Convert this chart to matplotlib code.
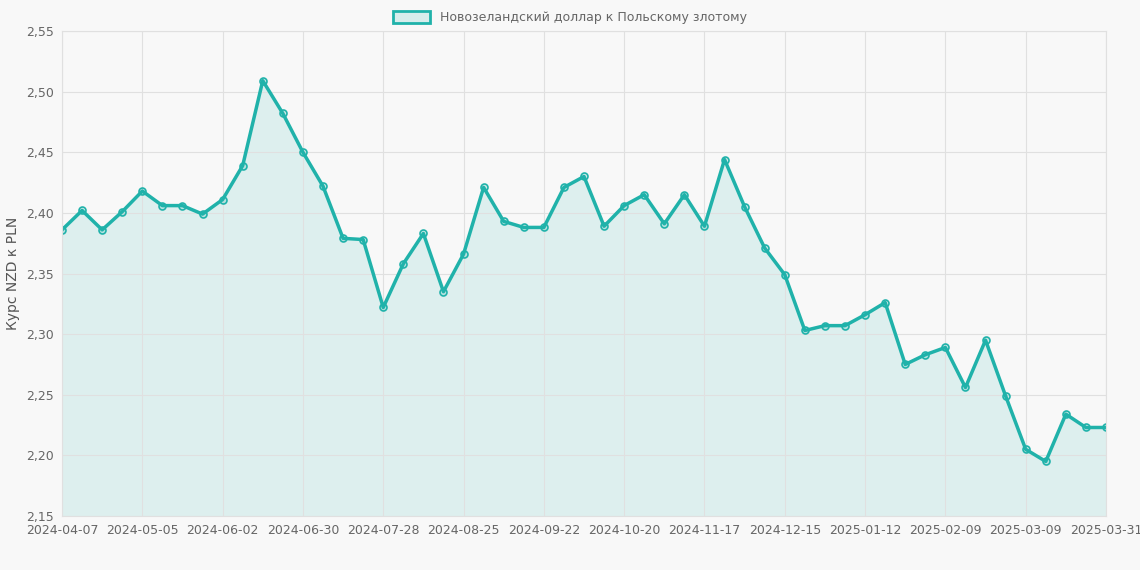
import matplotlib.pyplot as plt
import numpy as np
from datetime import date, timedelta

start = date(2024, 4, 7)
dates = [(start + timedelta(weeks=i)).isoformat() for i in range(52)] + ['2025-03-31']
rates = [2.386, 2.402, 2.386, 2.401, 2.418, 2.406, 2.406, 2.399, 2.411, 2.439,
         2.509, 2.482, 2.450, 2.422, 2.379, 2.378, 2.322, 2.358, 2.383, 2.335,
         2.366, 2.421, 2.393, 2.388, 2.388, 2.421, 2.430, 2.389, 2.406, 2.415,
         2.391, 2.415, 2.389, 2.444, 2.405, 2.371, 2.349, 2.303, 2.307, 2.307,
         2.316, 2.326, 2.275, 2.283, 2.289, 2.256, 2.295, 2.249, 2.205, 2.195,
         2.234, 2.223, 2.223]
label = 'Новозеландский доллар к Польскому злотому'
color = '#20b2aa'
bg = '#f8f8f8'

fig = plt.figure(figsize=(11.4, 5.7), dpi=100, facecolor=bg)
ax = fig.add_axes([62/1140, 1 - 516/570, (1106-62)/1140, (516-31)/570], facecolor=bg)
x = np.arange(len(rates))
ax.fill_between(x, rates, 2.15, color=color, alpha=0.12, linewidth=0)
ax.plot(x, rates, color=color, linewidth=2.5, marker='o', markersize=5,
        markerfacecolor=(0.13, 0.7, 0.67, 0.2), markeredgecolor=color, markeredgewidth=1.2, label=label)
ax.set_xlim(0, len(rates) - 1)
ax.set_ylim(2.15, 2.55)
ticks = list(range(0, len(rates), 4))
ax.set_xticks(ticks)
ax.set_xticklabels([dates[i] for i in ticks])
yt = np.arange(2.15, 2.551, 0.05)
ax.set_yticks(yt)
ax.set_yticklabels([f'{v:.2f}'.replace('.', ',') for v in yt])
ax.set_xticks(x, minor=True)
ax.grid(True, which='major', color='#e0e0e0', linewidth=0.8)
ax.tick_params(colors='#666666', labelsize=9, length=0, pad=6)
ax.tick_params(which='minor', length=0)
for s in ax.spines.values():
    s.set_color('#e0e0e0')
ax.set_ylabel('Курс NZD к PLN', color='#555555', fontsize=10)
leg = fig.legend(handles=[plt.Rectangle((0, 0), 1, 1, facecolor=(0.13, 0.7, 0.67, 0.15), edgecolor=color, linewidth=2)],
                 labels=[label], loc='upper center', bbox_to_anchor=(0.5, 1.0), frameon=False,
                 fontsize=9, handlelength=3, handleheight=1)
for t in leg.get_texts():
    t.set_color('#666666')
fig.savefig('out.png', dpi=100, facecolor=bg)
